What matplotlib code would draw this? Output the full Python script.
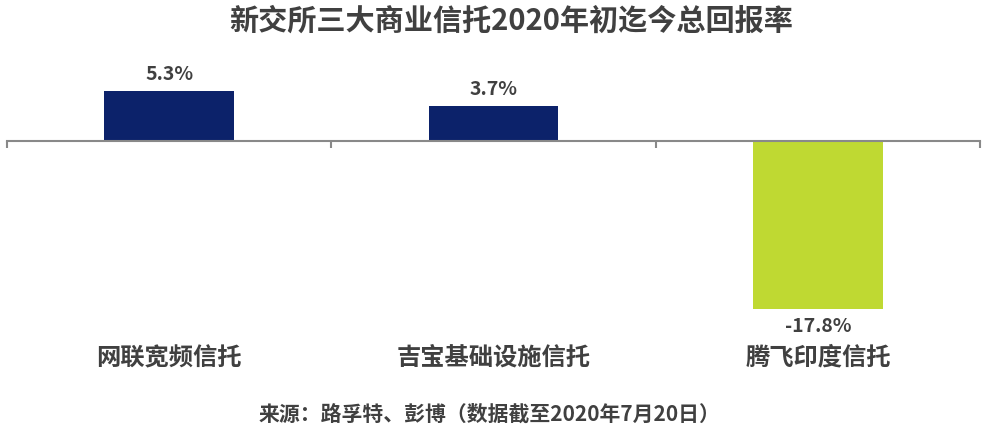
import matplotlib.pyplot as plt
import matplotlib.transforms as mtransforms
import numpy as np

plt.rcParams['font.family'] = ['Noto Sans CJK SC', 'DejaVu Sans']

categories = ["网联宽频信托", "吉宝基础设施信托", "腾飞印度信托"]
returns = [5.3, 3.7, -17.8]
value_labels = ["5.3%", "3.7%", "-17.8%"]

title = "新交所三大商业信托2020年初迄今总回报率"
source = "来源：路孚特、彭博（数据截至2020年7月20日）"

navy = "#0c226a"
green = "#bfd932"
text_color = "#404040"

fig = plt.figure(figsize=(9.9, 4.39), dpi=100)
ax = fig.add_axes([7 / 990, 0.2255, 973 / 990, 0.6378])

x = np.arange(len(categories))
colors = [navy if v >= 0 else green for v in returns]
ax.bar(x, returns, width=0.40, color=colors)

ax.set_xlim(-0.5, len(categories) - 0.5)
ax.set_ylim(-21.0, 8.7)

# zero line with boundary ticks
for s in ["top", "right", "left"]:
    ax.spines[s].set_visible(False)
ax.spines["bottom"].set_position(("data", 0))
ax.spines["bottom"].set_color("#898989")
ax.spines["bottom"].set_linewidth(1.5)
ax.set_xticks(np.arange(len(categories) + 1) - 0.5)
ax.set_xticklabels([])
ax.tick_params(axis="x", direction="out", length=5, width=1.5, color="#898989")
ax.set_yticks([])

for xi, v, lab in zip(x, returns, value_labels):
    off = 6 if v >= 0 else -5
    ax.annotate(lab, (xi, v), xytext=(0, off), textcoords="offset points",
                ha="center", va="bottom" if v >= 0 else "top",
                fontsize=14, fontweight="bold", color=text_color)

trans = mtransforms.blended_transform_factory(ax.transData, fig.transFigure)
for xi, cat in zip(x, categories):
    ax.text(xi, 1 - 358 / 439, cat, transform=trans, ha="center", va="center",
            fontsize=17.5, fontweight="bold", color=text_color)

fig.text(0.516, 1 - 21 / 439, title, ha="center", va="center",
         fontsize=21, fontweight="bold", color=text_color)
fig.text(0.494, 1 - 414 / 439, source, ha="center", va="center",
         fontsize=15, fontweight="bold", color=text_color)

plt.savefig("out.png", dpi=100)
